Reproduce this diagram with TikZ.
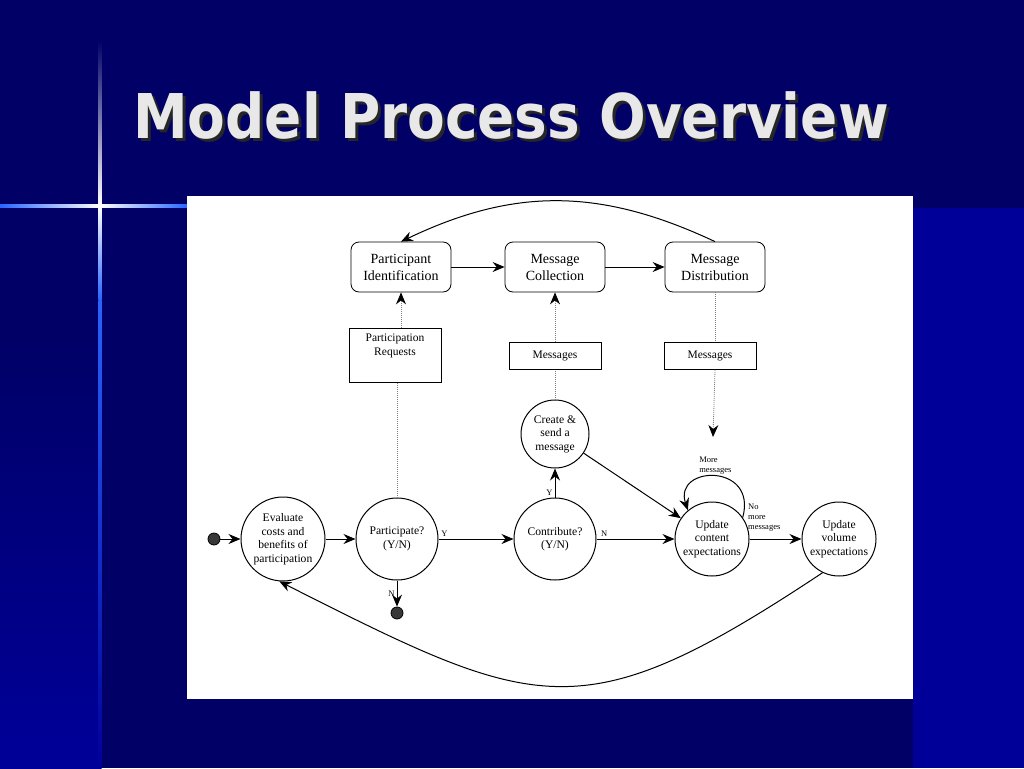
\documentclass[tikz,border=0pt]{standalone}
\usepackage{fontspec}
\setmainfont{Liberation Serif}
\newfontfamily\titlefont{DejaVu Sans}
\usetikzlibrary{positioning,arrows.meta}

\definecolor{navy}{RGB}{0,0,102}
\definecolor{deepblue}{RGB}{0,0,153}
\definecolor{flare}{RGB}{40,100,255}
\definecolor{titlegray}{RGB}{232,232,232}

\begin{document}
\begin{tikzpicture}[x=1pt, y=-1pt, node distance=1cm,
    box/.style={rectangle, draw, rounded corners=8pt, fill=white, line width=0.8pt, minimum width=100pt, minimum height=50pt, align=center, font=\fontsize{14}{17}\selectfont},
    store/.style={rectangle, draw, fill=white, line width=0.8pt, minimum width=92pt, minimum height=27pt, align=center, font=\fontsize{11.5}{13.5}\selectfont},
    state/.style={circle, draw, fill=white, line width=1pt, minimum size=82pt, inner sep=0pt, align=center, font=\fontsize{11.6}{13.5}\selectfont},
    dot/.style={circle, draw, fill=black!78, line width=0.8pt, minimum size=12pt, inner sep=0pt},
    lbl/.style={font=\fontsize{8.5}{10}\selectfont, inner sep=2pt},
    flow/.style={-{Stealth[length=12pt, width=10pt, inset=4pt]}, line width=1pt},
    data/.style={gray, line width=0.8pt, dash pattern=on 1pt off 1pt},
    dtip/.style={-{Stealth[length=12pt, width=10pt, inset=4pt, black]}},
    title/.style={inner sep=0pt, font=\titlefont\bfseries\fontsize{61.7}{70}\selectfont}]

\useasboundingbox (0,0) rectangle (1024,768);

% Slide background
\fill[navy] (0,0) rectangle (1024,768);
\fill[deepblue] (913,208) rectangle (1024,768);
\shade[top color=navy, bottom color=deepblue] (0,330) rectangle (100,768);

% Light flare
\shade[left color=flare, right color=white] (0,204.5) rectangle (100,207.5);
\shade[left color=white, right color=flare] (100,204.5) rectangle (187,207.5);
\shade[top color=navy, bottom color=white] (98.5,40) rectangle (101.5,206);
\shade[top color=white, bottom color=flare] (98.5,206) rectangle (101.5,300);
\shade[top color=flare, bottom color=deepblue] (98.5,300) rectangle (101.5,768);

% Title
\node[title, anchor=base west, text=black!85] (shadow) at (136,141) {\scalebox{0.89}[1]{Model Process Overview}};
\node[title, anchor=base west, text=titlegray] (title) at (133,138) {\scalebox{0.89}[1]{Model Process Overview}};

% White panel
\fill[white] (187,196) rectangle (913,699);

% Decision chain (bottom)
\node[state, minimum size=84pt] (evaluate) at (283,539) {Evaluate\\costs and\\benefits of\\participation};
\node[dot, left of=evaluate, node distance=69pt] (start) {};
\node[state, right of=evaluate, node distance=114pt] (participate) {Participate?\\(Y/N)};
\node[dot, below of=participate, node distance=74pt] (quit) {};
\node[state, right of=participate, node distance=158pt] (contribute) {Contribute?\\(Y/N)};
\node[state, minimum size=68pt, above of=contribute, node distance=105pt] (create) {Create \&\\send a\\message};
\node[state, minimum size=74pt, right of=contribute, node distance=157pt] (content) {Update\\content\\expectations};
\node[state, minimum size=74pt, right of=content, node distance=127pt] (volume) {Update\\volume\\expectations};

% Message stores
\node[store, above of=create, node distance=78pt] (msgin) {Messages};

% Processes (top)
\node[box, above of=msgin, node distance=89pt] (collect) {Message\\Collection};
\node[box, left of=collect, node distance=154pt] (ident) {Participant\\Identification};
\node[box, right of=collect, node distance=160pt] (distrib) {Message\\Distribution};

\node[store, minimum height=54pt, below of=ident, node distance=88pt, xshift=-6pt,
    label={[anchor=north, align=center, yshift=-3pt, font=\fontsize{11.5}{13.5}\selectfont]north:{Participation\\Requests}}] (requests) {};
\node[store, below of=distrib, node distance=89pt, xshift=-5pt] (msgout) {Messages};
\coordinate (msgend) at (713,437);

% Data links
\draw[data] (participate.north) -- (participate.north |- requests.south);
\draw[data, dtip] (requests.north -| ident) -- (ident.south);
\draw[data] (create) -- (msgin);
\draw[data, dtip] (msgin) -- (collect);
\draw[data] (distrib.south) -- (distrib.south |- msgout.north);
\draw[data, dtip] (distrib.south |- msgout.south) -- (msgend);

% Flows
\draw[flow] (start) -- (evaluate);
\draw[flow] (evaluate) -- (participate);
\draw[flow] (participate) -- node[lbl, pos=0.08, above] {Y} (contribute);
\draw[flow] (participate) -- node[lbl, midway, left] {N} (quit);
\draw[flow] (contribute) -- node[lbl, pos=0.15, left] {Y} (create);
\draw[flow] (contribute) -- node[lbl, pos=0.1, above] {N} (content);
\draw[flow] (create) -- (content);
\draw[flow] (content.35) .. controls +(15,-55) and +(-15,-45) ..
    node[lbl, above, align=left] {More\\messages}
    node[lbl, pos=0, right, xshift=3pt, align=left] {No\\more\\messages} (content.130);
\draw[flow] (content) -- (volume);
\draw[flow] (volume.244) .. controls +(-241,160) and +(259,131) .. (evaluate.265);

\draw[flow] (ident) -- (collect);
\draw[flow] (collect) -- (distrib);
\draw[flow] (distrib.north) .. controls +(-115,-54) and +(113,-54) .. (ident.north);

\end{tikzpicture}
\end{document}
